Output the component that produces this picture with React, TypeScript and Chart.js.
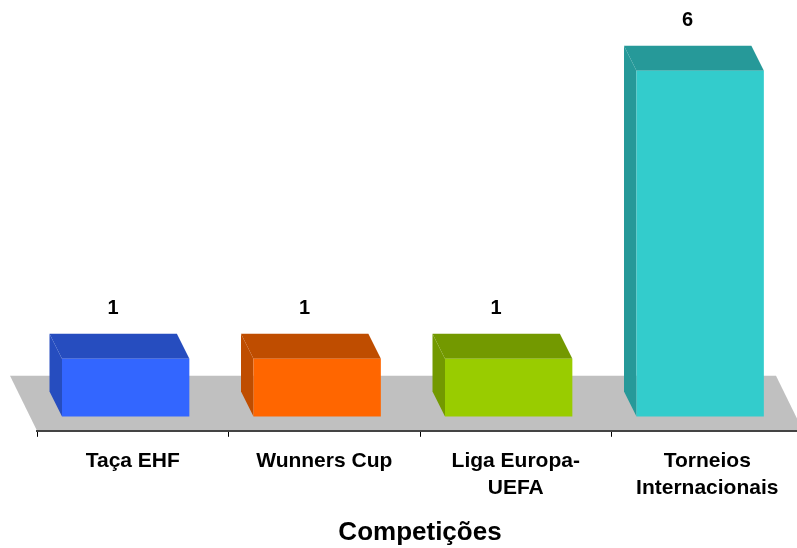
import { useEffect, useRef } from 'react';
import { Chart, registerables } from 'chart.js';

Chart.register(...registerables);

const categories: (string | string[])[] = [
  'Taça EHF',
  'Wunners Cup',
  ['Liga Europa-', 'UEFA'],
  ['Torneios', 'Internacionais'],
];
const values = [1, 1, 1, 6];
const frontColors = ['#3366FF', '#FF6600', '#99CC00', '#33CCCC'];
const shadeColors = ['#264DBF', '#BF4D00', '#739900', '#269999'];
const axisTitle = 'Competições';
const yMin = -0.25;
const yMax = 7;

const FLOOR_DX = -27;
const FLOOR_DY = -55;
const BAR_DX = -12.5;
const BAR_DY = -25;
const FONT = '"Liberation Sans", Arial, Helvetica, sans-serif';

const bar3d = {
  id: 'bar3d',
  beforeDraw(chart: any) {
    const { ctx, chartArea } = chart;
    const bottom = chartArea.bottom;
    ctx.save();
    ctx.fillStyle = '#C0C0C0';
    ctx.beginPath();
    ctx.moveTo(chartArea.left, bottom);
    ctx.lineTo(chartArea.right, bottom);
    ctx.lineTo(chartArea.right + FLOOR_DX, bottom + FLOOR_DY);
    ctx.lineTo(chartArea.left + FLOOR_DX, bottom + FLOOR_DY);
    ctx.closePath();
    ctx.fill();
    ctx.restore();
  },
  beforeDatasetsDraw(chart: any) {
    const { ctx, chartArea, scales } = chart;
    const base0 = scales.y.getPixelForValue(0);
    const frontDy = base0 - chartArea.bottom;
    const frontDx = (frontDy * FLOOR_DX) / FLOOR_DY;
    const meta = chart.getDatasetMeta(0);
    ctx.save();
    meta.data.forEach((el: any, i: number) => {
      const p = el.getProps(['x', 'y', 'base', 'width'], true);
      const l = p.x - p.width / 2 + frontDx;
      const r = p.x + p.width / 2 + frontDx;
      const t = Math.min(p.y, p.base);
      const b = Math.max(p.y, p.base);
      ctx.fillStyle = shadeColors[i];
      // top face
      ctx.beginPath();
      ctx.moveTo(l, t);
      ctx.lineTo(r, t);
      ctx.lineTo(r + BAR_DX, t + BAR_DY);
      ctx.lineTo(l + BAR_DX, t + BAR_DY);
      ctx.closePath();
      ctx.fill();
      // left side face
      ctx.beginPath();
      ctx.moveTo(l, t);
      ctx.lineTo(l + BAR_DX, t + BAR_DY);
      ctx.lineTo(l + BAR_DX, b + BAR_DY);
      ctx.lineTo(l, b);
      ctx.closePath();
      ctx.fill();
    });
    ctx.restore();
    ctx.save();
    ctx.translate(frontDx, 0);
  },
  afterDatasetsDraw(chart: any) {
    const { ctx, chartArea, scales } = chart;
    ctx.restore();
    const base0 = scales.y.getPixelForValue(0);
    const frontDy = base0 - chartArea.bottom;
    const frontDx = (frontDy * FLOOR_DX) / FLOOR_DY;
    const meta = chart.getDatasetMeta(0);
    ctx.save();
    ctx.fillStyle = '#000';
    ctx.font = `bold 20px ${FONT}`;
    ctx.textAlign = 'center';
    ctx.textBaseline = 'middle';
    meta.data.forEach((el: any, i: number) => {
      const p = el.getProps(['x', 'y', 'base', 'width'], true);
      const cx = p.x + frontDx + BAR_DX;
      const ty = Math.min(p.y, p.base) + BAR_DY;
      ctx.fillText(String(values[i]), cx, ty - 25);
    });
    ctx.restore();
  },
};

export default function App() {
  const ref = useRef<HTMLCanvasElement | null>(null);
  useEffect(() => {
    if (!ref.current) return;
    const chart = new Chart(ref.current, {
      type: 'bar',
      data: {
        labels: categories as any,
        datasets: [
          {
            data: values,
            backgroundColor: frontColors,
            borderWidth: 0,
            categoryPercentage: 0.665,
            barPercentage: 1,
          },
        ],
      },
      options: {
        responsive: false,
        animation: false,
        devicePixelRatio: 1,
        layout: { padding: { left: 37, right: 3, top: 13, bottom: 0 } },
        plugins: {
          legend: { display: false },
          tooltip: { enabled: false },
          title: { display: false },
        },
        scales: {
          x: {
            type: 'category',
            offset: true,
            grid: {
              display: true,
              drawOnChartArea: false,
              drawTicks: true,
              tickLength: 6,
              offset: true,
              color: '#000',
              lineWidth: 1,
            },
            border: { display: true, color: '#444', width: 2 },
            ticks: {
              color: '#000',
              padding: 10.5,
              maxRotation: 0,
              autoSkip: false,
              font: { family: FONT, size: 21, weight: 'bold', lineHeight: 27 / 21 },
            },
            title: {
              display: true,
              text: axisTitle,
              color: '#000',
              font: { family: FONT, size: 26, weight: 'bold', lineHeight: 1.2 },
              padding: { top: 5, bottom: 0 },
            },
          },
          y: {
            display: false,
            min: yMin,
            max: yMax,
          },
        },
      },
      plugins: [bar3d],
    });
    return () => chart.destroy();
  }, []);
  return (
    <div style={{ position: 'fixed', left: 0, top: 0, width: 797, height: 548, overflow: 'hidden', background: '#fff' }}>
      <canvas ref={ref} width={806} height={548} style={{ width: 806, height: 548, display: 'block' }} />
    </div>
  );
}
